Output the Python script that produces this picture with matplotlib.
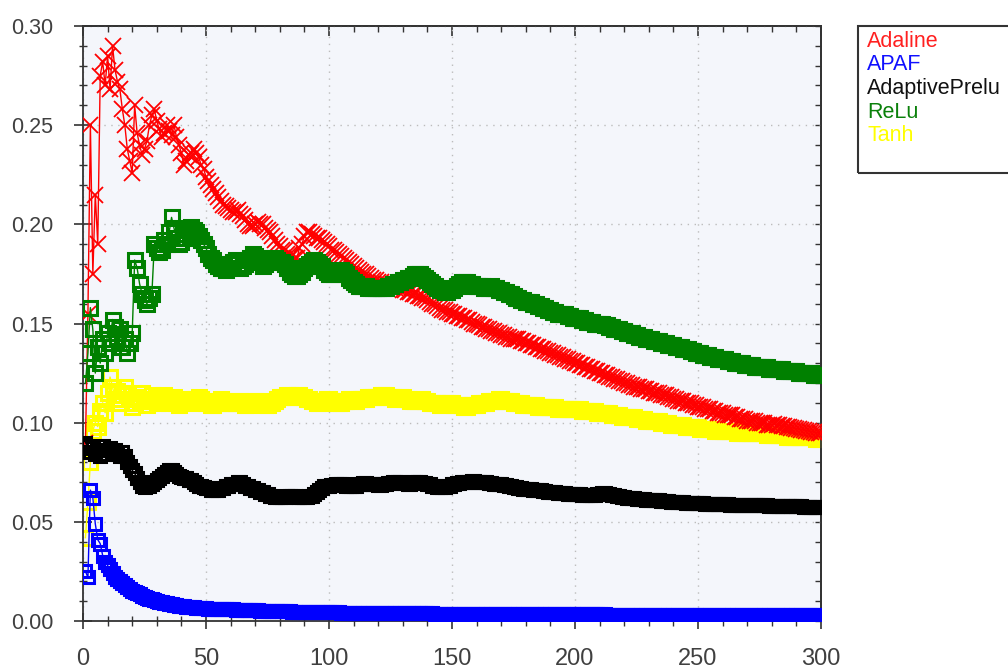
import matplotlib
matplotlib.use('Agg')
import matplotlib.pyplot as plt
from matplotlib.ticker import MultipleLocator
from matplotlib.patches import Rectangle

# iteration index 1..300
x_vals = list(range(1, 301))

adaline = [
    0.090, 0.155, 0.250, 0.175, 0.215, 0.190, 0.275, 0.282, 0.270, 0.285,
    0.268, 0.290, 0.278, 0.272, 0.268, 0.258, 0.250, 0.238, 0.232, 0.226,
    0.260, 0.246, 0.240, 0.235, 0.238, 0.242, 0.250, 0.255, 0.258, 0.252,
    0.248, 0.244, 0.246, 0.250, 0.247, 0.245, 0.250, 0.244, 0.240, 0.236,
    0.230, 0.232, 0.235, 0.236, 0.238, 0.236, 0.234, 0.230, 0.228, 0.224,
    0.222, 0.220, 0.218, 0.216, 0.214, 0.212, 0.210, 0.209, 0.208, 0.207,
    0.206, 0.206, 0.207, 0.205, 0.204, 0.202, 0.200, 0.199, 0.199, 0.200,
    0.201, 0.200, 0.200, 0.198, 0.197, 0.196, 0.194, 0.192, 0.190, 0.189,
    0.187, 0.187, 0.185, 0.185, 0.184, 0.183, 0.183, 0.188, 0.190, 0.194,
    0.196, 0.196, 0.195, 0.194, 0.193, 0.193, 0.192, 0.191, 0.190, 0.189,
    0.187, 0.187, 0.186, 0.185, 0.184, 0.183, 0.182, 0.181, 0.180, 0.179,
    0.178, 0.177, 0.176, 0.175, 0.175, 0.174, 0.173, 0.172, 0.172, 0.171,
    0.171, 0.170, 0.170, 0.170, 0.169, 0.169, 0.168, 0.168, 0.168, 0.167,
    0.167, 0.166, 0.166, 0.165, 0.165, 0.164, 0.164, 0.163, 0.163, 0.162,
    0.161, 0.160, 0.160, 0.159, 0.158, 0.157, 0.157, 0.156, 0.156, 0.155,
    0.155, 0.154, 0.154, 0.153, 0.153, 0.152, 0.152, 0.151, 0.150, 0.150,
    0.149, 0.148, 0.148, 0.147, 0.147, 0.146, 0.146, 0.145, 0.145, 0.144,
    0.144, 0.143, 0.143, 0.142, 0.142, 0.142, 0.142, 0.141, 0.141, 0.140,
    0.140, 0.139, 0.139, 0.138, 0.138, 0.137, 0.137, 0.136, 0.136, 0.135,
    0.135, 0.134, 0.134, 0.133, 0.133, 0.132, 0.132, 0.131, 0.131, 0.130,
    0.130, 0.129, 0.129, 0.128, 0.128, 0.127, 0.127, 0.126, 0.126, 0.125,
    0.125, 0.124, 0.124, 0.123, 0.123, 0.122, 0.122, 0.121, 0.121, 0.120,
    0.120, 0.119, 0.119, 0.118, 0.118, 0.118, 0.117, 0.117, 0.117, 0.116,
    0.116, 0.115, 0.115, 0.115, 0.114, 0.114, 0.114, 0.113, 0.113, 0.112,
    0.112, 0.111, 0.111, 0.111, 0.110, 0.110, 0.110, 0.109, 0.109, 0.108,
    0.108, 0.108, 0.107, 0.107, 0.107, 0.106, 0.106, 0.105, 0.105, 0.105,
    0.104, 0.104, 0.104, 0.104, 0.103, 0.103, 0.102, 0.102, 0.102, 0.101,
    0.101, 0.101, 0.101, 0.100, 0.100, 0.100, 0.100, 0.099, 0.099, 0.099,
    0.0995, 0.099, 0.099, 0.0985, 0.0985, 0.098, 0.098, 0.0975, 0.0975, 0.097,
    0.097, 0.0965, 0.0965, 0.096, 0.096, 0.0955, 0.0955, 0.095, 0.095, 0.095,
]

apaf = [
    0.025, 0.022, 0.066, 0.062, 0.049, 0.041, 0.039, 0.033, 0.030, 0.028,
    0.026, 0.024, 0.022, 0.021, 0.020, 0.019, 0.018, 0.017, 0.016, 0.0153,
    0.0146, 0.0140, 0.0134, 0.0128, 0.0123, 0.0118, 0.0113, 0.0109, 0.0105, 0.0101,
    0.0098, 0.0095, 0.0092, 0.0089, 0.0087, 0.0084, 0.0082, 0.0080, 0.0078, 0.0076,
    0.0075, 0.0073, 0.0072, 0.0070, 0.0069, 0.0068, 0.0067, 0.0066, 0.0065, 0.0064,
    0.0063, 0.0062, 0.0062, 0.0061, 0.0061, 0.0060, 0.0060, 0.0059, 0.0059, 0.0058,
    0.0058, 0.0057, 0.0057, 0.0056, 0.0056, 0.0055, 0.0055, 0.0054, 0.0054, 0.0053,
    0.0053, 0.0052, 0.0052, 0.0051, 0.0051, 0.0050, 0.0050, 0.0050, 0.0049, 0.0049,
    0.0049, 0.0048, 0.0048, 0.0048, 0.0047, 0.0047, 0.0047, 0.0046, 0.0046, 0.0046,
    0.0046, 0.0045, 0.0045, 0.0045, 0.0045, 0.0044, 0.0044, 0.0044, 0.0044, 0.0043,
    0.0043, 0.0043, 0.0043, 0.0043, 0.0042, 0.0042, 0.0042, 0.0042, 0.0042, 0.0041,
    0.0041, 0.0041, 0.0041, 0.0041, 0.0041, 0.0040, 0.0040, 0.0040, 0.0040, 0.0040,
    0.0040, 0.0040, 0.0039, 0.0039, 0.0039, 0.0039, 0.0039, 0.0039, 0.0039, 0.0038,
    0.0038, 0.0038, 0.0038, 0.0038, 0.0038, 0.0038, 0.0038, 0.0038, 0.0038, 0.0038,
    0.0038, 0.0038, 0.0037, 0.0037, 0.0037, 0.0037, 0.0037, 0.0037, 0.0037, 0.0037,
    0.0036, 0.0036, 0.0036, 0.0036, 0.0036, 0.0036, 0.0036, 0.0036, 0.0036, 0.0036,
    0.0036, 0.0036, 0.0035, 0.0035, 0.0035, 0.0035, 0.0035, 0.0035, 0.0035, 0.0035,
    0.0035, 0.0035, 0.0035, 0.0035, 0.0034, 0.0034, 0.0034, 0.0034, 0.0034, 0.0034,
    0.0034, 0.0034, 0.0034, 0.0034, 0.0034, 0.0034, 0.0034, 0.0034, 0.0034, 0.0034,
    0.0034, 0.0034, 0.0033, 0.0033, 0.0033, 0.0033, 0.0033, 0.0033, 0.0033, 0.0033,
    0.0033, 0.0033, 0.0033, 0.0033, 0.0033, 0.0033, 0.0033, 0.0033, 0.0033, 0.0033,
    0.0033, 0.0033, 0.0032, 0.0032, 0.0032, 0.0032, 0.0032, 0.0032, 0.0032, 0.0032,
    0.0032, 0.0032, 0.0032, 0.0032, 0.0032, 0.0032, 0.0032, 0.0032, 0.0032, 0.0032,
    0.0032, 0.0032, 0.0031, 0.0031, 0.0031, 0.0031, 0.0031, 0.0031, 0.0031, 0.0031,
    0.0031, 0.0031, 0.0031, 0.0031, 0.0031, 0.0031, 0.0031, 0.0031, 0.0031, 0.0031,
    0.0031, 0.0031, 0.0030, 0.0030, 0.0030, 0.0030, 0.0030, 0.0030, 0.0030, 0.0030,
    0.0030, 0.0030, 0.0030, 0.0030, 0.0030, 0.0030, 0.0030, 0.0030, 0.0030, 0.0030,
    0.0030, 0.0030, 0.0030, 0.0030, 0.0030, 0.0030, 0.0030, 0.0030, 0.0030, 0.0030,
    0.0030, 0.0030, 0.0029, 0.0029, 0.0029, 0.0029, 0.0029, 0.0029, 0.0029, 0.0029,
    0.0029, 0.0029, 0.0029, 0.0029, 0.0029, 0.0029, 0.0029, 0.0029, 0.0029, 0.0029,
]

adaptive_prelu = [
    0.090, 0.088, 0.085, 0.087, 0.084, 0.086, 0.083, 0.088, 0.084, 0.086,
    0.087, 0.085, 0.086, 0.084, 0.083, 0.085, 0.083, 0.080, 0.078, 0.076,
    0.0745, 0.072, 0.070, 0.068, 0.0676, 0.069, 0.068, 0.069, 0.070, 0.071,
    0.072, 0.073, 0.074, 0.075, 0.076, 0.076, 0.075, 0.074, 0.073, 0.0727,
    0.072, 0.072, 0.071, 0.071, 0.070, 0.069, 0.068, 0.068, 0.0676, 0.067,
    0.067, 0.066, 0.066, 0.066, 0.066, 0.067, 0.067, 0.068, 0.068, 0.069,
    0.069, 0.069, 0.070, 0.070, 0.069, 0.068, 0.068, 0.067, 0.067, 0.066,
    0.066, 0.065, 0.065, 0.064, 0.064, 0.063, 0.063, 0.0626, 0.0626, 0.0626,
    0.0626, 0.0626, 0.063, 0.063, 0.063, 0.063, 0.0626, 0.0626, 0.0626, 0.0626,
    0.0626, 0.063, 0.063, 0.064, 0.065, 0.066, 0.067, 0.068, 0.068, 0.068,
    0.0685, 0.0685, 0.069, 0.069, 0.069, 0.069, 0.068, 0.068, 0.068, 0.068,
    0.068, 0.069, 0.069, 0.0695, 0.0695, 0.069, 0.069, 0.069, 0.069, 0.0685,
    0.0685, 0.069, 0.069, 0.0695, 0.0695, 0.070, 0.070, 0.070, 0.070, 0.0695,
    0.0695, 0.069, 0.069, 0.070, 0.070, 0.070, 0.070, 0.0695, 0.0695, 0.069,
    0.069, 0.068, 0.068, 0.0676, 0.0676, 0.0676, 0.0676, 0.068, 0.068, 0.069,
    0.069, 0.0695, 0.0695, 0.070, 0.070, 0.070, 0.070, 0.0705, 0.0705, 0.070,
    0.070, 0.070, 0.070, 0.070, 0.0695, 0.0695, 0.0693, 0.0693, 0.069, 0.069,
    0.0685, 0.0685, 0.068, 0.068, 0.0675, 0.0675, 0.067, 0.067, 0.0668, 0.0668,
    0.0665, 0.0665, 0.066, 0.066, 0.066, 0.066, 0.0655, 0.0655, 0.065, 0.065,
    0.065, 0.065, 0.0645, 0.0645, 0.0645, 0.0645, 0.064, 0.064, 0.064, 0.064,
    0.064, 0.064, 0.0635, 0.0635, 0.0634, 0.0634, 0.0634, 0.0634, 0.064, 0.064,
    0.0643, 0.0643, 0.064, 0.064, 0.0635, 0.0635, 0.063, 0.063, 0.0625, 0.0625,
    0.062, 0.062, 0.062, 0.062, 0.0615, 0.0615, 0.0615, 0.0615, 0.061, 0.061,
    0.061, 0.061, 0.061, 0.061, 0.0605, 0.0605, 0.0605, 0.0605, 0.060, 0.060,
    0.060, 0.060, 0.0598, 0.0598, 0.0596, 0.0596, 0.0595, 0.0595, 0.0594, 0.0594,
    0.0593, 0.0593, 0.0592, 0.0592, 0.059, 0.059, 0.059, 0.059, 0.059, 0.059,
    0.0588, 0.0588, 0.0587, 0.0587, 0.0586, 0.0586, 0.0585, 0.0585, 0.0585, 0.0585,
    0.0584, 0.0584, 0.0584, 0.0584, 0.0584, 0.0584, 0.0583, 0.0583, 0.0582, 0.0582,
    0.0581, 0.0581, 0.058, 0.058, 0.058, 0.058, 0.0579, 0.0579, 0.0578, 0.0578,
    0.0578, 0.0578, 0.0577, 0.0577, 0.0576, 0.0576, 0.0576, 0.0576, 0.0575, 0.0575,
]

relu = [
    0.120, 0.135, 0.158, 0.147, 0.125, 0.138, 0.130, 0.142, 0.135, 0.145,
    0.140, 0.152, 0.148, 0.143, 0.147, 0.138, 0.142, 0.135, 0.140, 0.145,
    0.182, 0.178, 0.170, 0.165, 0.162, 0.160, 0.163, 0.165, 0.190, 0.188,
    0.186, 0.187, 0.192, 0.190, 0.196, 0.2035, 0.198, 0.193, 0.190, 0.191,
    0.193, 0.195, 0.197, 0.1985, 0.197, 0.196, 0.194, 0.192, 0.190, 0.188,
    0.185, 0.183, 0.182, 0.180, 0.179, 0.178, 0.178, 0.177, 0.178, 0.180,
    0.181, 0.182, 0.180, 0.178, 0.179, 0.180, 0.182, 0.183, 0.185, 0.184,
    0.182, 0.181, 0.179, 0.180, 0.182, 0.182, 0.183, 0.183, 0.182, 0.181,
    0.181, 0.180, 0.178, 0.176, 0.175, 0.174, 0.174, 0.175, 0.176, 0.178,
    0.179, 0.180, 0.181, 0.182, 0.181, 0.180, 0.179, 0.177, 0.176, 0.175,
    0.175, 0.175, 0.176, 0.176, 0.177, 0.176, 0.175, 0.173, 0.172, 0.171,
    0.170, 0.169, 0.169, 0.169, 0.169, 0.168, 0.168, 0.168, 0.168, 0.168,
    0.168, 0.168, 0.168, 0.169, 0.169, 0.170, 0.170, 0.171, 0.171, 0.172,
    0.172, 0.173, 0.173, 0.174, 0.175, 0.175, 0.175, 0.174, 0.173, 0.172,
    0.171, 0.170, 0.169, 0.168, 0.167, 0.167, 0.166, 0.166, 0.167, 0.167,
    0.168, 0.169, 0.170, 0.171, 0.171, 0.171, 0.170, 0.170, 0.169, 0.169,
    0.169, 0.169, 0.168, 0.168, 0.168, 0.169, 0.168, 0.168, 0.167, 0.167,
    0.166, 0.166, 0.165, 0.165, 0.164, 0.163, 0.163, 0.162, 0.162, 0.161,
    0.161, 0.161, 0.160, 0.160, 0.159, 0.159, 0.158, 0.158, 0.157, 0.157,
    0.156, 0.156, 0.155, 0.155, 0.155, 0.155, 0.154, 0.154, 0.153, 0.153,
    0.153, 0.153, 0.152, 0.152, 0.151, 0.151, 0.151, 0.150, 0.150, 0.150,
    0.150, 0.149, 0.149, 0.148, 0.148, 0.147, 0.147, 0.147, 0.146, 0.146,
    0.145, 0.145, 0.145, 0.144, 0.144, 0.143, 0.143, 0.143, 0.142, 0.142,
    0.142, 0.141, 0.141, 0.141, 0.140, 0.140, 0.140, 0.139, 0.139, 0.139,
    0.138, 0.138, 0.138, 0.137, 0.137, 0.137, 0.136, 0.136, 0.135, 0.135,
    0.135, 0.134, 0.134, 0.134, 0.133, 0.133, 0.133, 0.132, 0.132, 0.132,
    0.132, 0.131, 0.131, 0.131, 0.130, 0.130, 0.130, 0.130, 0.129, 0.129,
    0.129, 0.129, 0.128, 0.128, 0.128, 0.128, 0.128, 0.128, 0.127, 0.127,
    0.127, 0.127, 0.127, 0.127, 0.126, 0.126, 0.126, 0.126, 0.126, 0.126,
    0.125, 0.125, 0.125, 0.125, 0.125, 0.125, 0.124, 0.124, 0.124, 0.124,
]

tanh = [
    0.042, 0.060, 0.080, 0.096, 0.100, 0.098, 0.106, 0.110, 0.105, 0.115,
    0.123, 0.118, 0.112, 0.116, 0.110, 0.114, 0.118, 0.115, 0.112, 0.108,
    0.110, 0.113, 0.111, 0.115, 0.112, 0.109, 0.111, 0.114, 0.112, 0.110,
    0.113, 0.111, 0.114, 0.112, 0.110, 0.111, 0.113, 0.110, 0.109, 0.112,
    0.112, 0.111, 0.111, 0.110, 0.111, 0.112, 0.113, 0.112, 0.111, 0.110,
    0.110, 0.109, 0.109, 0.110, 0.111, 0.112, 0.111, 0.110, 0.110, 0.110,
    0.110, 0.110, 0.111, 0.111, 0.110, 0.109, 0.109, 0.110, 0.110, 0.111,
    0.111, 0.110, 0.110, 0.109, 0.109, 0.110, 0.110, 0.111, 0.112, 0.113,
    0.113, 0.113, 0.114, 0.114, 0.113, 0.113, 0.114, 0.114, 0.113, 0.113,
    0.112, 0.112, 0.111, 0.111, 0.110, 0.110, 0.111, 0.111, 0.112, 0.112,
    0.111, 0.111, 0.110, 0.110, 0.110, 0.111, 0.111, 0.112, 0.112, 0.111,
    0.111, 0.112, 0.112, 0.112, 0.112, 0.113, 0.113, 0.113, 0.113, 0.113,
    0.114, 0.114, 0.114, 0.113, 0.113, 0.113, 0.112, 0.112, 0.113, 0.113,
    0.112, 0.112, 0.111, 0.111, 0.111, 0.111, 0.112, 0.112, 0.111, 0.111,
    0.110, 0.110, 0.110, 0.110, 0.109, 0.109, 0.110, 0.110, 0.110, 0.110,
    0.109, 0.109, 0.109, 0.109, 0.108, 0.108, 0.109, 0.109, 0.109, 0.109,
    0.110, 0.110, 0.110, 0.110, 0.111, 0.111, 0.111, 0.111, 0.112, 0.112,
    0.111, 0.111, 0.111, 0.111, 0.110, 0.110, 0.110, 0.110, 0.109, 0.109,
    0.109, 0.109, 0.109, 0.109, 0.108, 0.108, 0.108, 0.108, 0.108, 0.108,
    0.108, 0.108, 0.107, 0.107, 0.107, 0.107, 0.107, 0.107, 0.107, 0.107,
    0.107, 0.107, 0.106, 0.106, 0.106, 0.106, 0.106, 0.106, 0.105, 0.105,
    0.105, 0.105, 0.105, 0.105, 0.104, 0.104, 0.104, 0.104, 0.103, 0.103,
    0.103, 0.103, 0.103, 0.103, 0.102, 0.102, 0.102, 0.102, 0.101, 0.101,
    0.101, 0.101, 0.101, 0.101, 0.100, 0.100, 0.100, 0.100, 0.099, 0.099,
    0.099, 0.099, 0.099, 0.099, 0.098, 0.098, 0.098, 0.098, 0.098, 0.098,
    0.097, 0.097, 0.097, 0.097, 0.097, 0.097, 0.096, 0.096, 0.096, 0.096,
    0.096, 0.096, 0.096, 0.096, 0.096, 0.095, 0.095, 0.095, 0.095, 0.095,
    0.095, 0.095, 0.095, 0.095, 0.095, 0.095, 0.095, 0.094, 0.094, 0.094,
    0.094, 0.094, 0.094, 0.094, 0.094, 0.093, 0.093, 0.093, 0.093, 0.093,
    0.093, 0.093, 0.093, 0.093, 0.093, 0.093, 0.093, 0.092, 0.092, 0.092,
]

legend_labels = ['Adaline', 'APAF', 'AdaptivePrelu', 'ReLu', 'Tanh']
legend_colors = ['#ff2020', '#1010ff', '#111111', '#0a800a', '#ffff00']

x_ticks = [0, 50, 100, 150, 200, 250, 300]
y_ticks = [0.00, 0.05, 0.10, 0.15, 0.20, 0.25, 0.30]

W, H = 1008, 671
fig = plt.figure(figsize=(W / 100, H / 100), dpi=100)
ax = fig.add_axes([83 / W, (H - 621) / H, (821 - 83) / W, (621 - 26) / H])
ax.set_facecolor('#f4f6fb')

series = [
    (adaline, '#ff0000', 'x', 12.0, 1.3, 3),
    (apaf, '#0000ff', 's', 8.5, 2.2, 6),
    (adaptive_prelu, '#000000', 's', 9.0, 2.2, 5),
    (relu, '#008000', 's', 9.5, 2.2, 4),
    (tanh, '#ffff00', 's', 9.5, 2.2, 2),
]
for ys, c, m, ms, mw, z in series:
    ax.plot(x_vals, ys, color=c, lw=1.0, marker=m, ms=ms, mfc='none',
            mec=c, mew=mw, zorder=z)

ax.set_xlim(0, 300)
ax.set_ylim(0, 0.30)
ax.set_xticks(x_ticks)
ax.set_yticks(y_ticks)
ax.set_xticklabels([str(v) for v in x_ticks])
ax.set_yticklabels(['%.2f' % v for v in y_ticks])
ax.xaxis.set_minor_locator(MultipleLocator(10))
ax.yaxis.set_minor_locator(MultipleLocator(0.01))

tick_font = ['Liberation Sans', 'DejaVu Sans']
for lab in ax.get_yticklabels():
    lab.set_family(tick_font)
    lab.set_fontsize(15.5)
    lab.set_color('#404040')
for lab in ax.get_xticklabels():
    lab.set_family(tick_font)
    lab.set_fontsize(17)
    lab.set_color('#404040')

ax.tick_params(axis='y', which='major', direction='inout', length=13, width=1.2,
               color='#333333', pad=15)
ax.tick_params(axis='y', which='minor', direction='inout', length=6, width=1.0,
               color='#333333')
ax.tick_params(axis='x', which='major', direction='inout', length=11, width=1.2,
               color='#333333', pad=14)
ax.tick_params(axis='x', which='minor', direction='inout', length=7, width=1.0,
               color='#333333')

for sp in ax.spines.values():
    sp.set_color('#333333')
    sp.set_linewidth(1.3)

ax.grid(True, which='major', color='#bcbcbc', linestyle=(0, (1, 4)), lw=1.0)
ax.set_axisbelow(True)

# top and right tick marks pointing inward
sec_x = ax.secondary_xaxis('top')
sec_x.set_xticks(x_ticks)
sec_x.xaxis.set_minor_locator(MultipleLocator(10))
sec_x.tick_params(which='major', direction='in', length=7, width=1.2,
                  color='#333333', labeltop=False)
sec_x.tick_params(which='minor', direction='in', length=4, width=1.0,
                  color='#333333')
sec_x.spines['top'].set_color('#333333')
sec_x.spines['top'].set_linewidth(1.3)

sec_y = ax.secondary_yaxis('right')
sec_y.set_yticks(y_ticks)
sec_y.yaxis.set_minor_locator(MultipleLocator(0.01))
sec_y.tick_params(which='both', direction='in', length=4, width=1.0,
                  color='#333333', labelright=False)
sec_y.spines['right'].set_color('#333333')
sec_y.spines['right'].set_linewidth(1.3)

# legend box (extends past the right edge, as in the source image)
fig.add_artist(Rectangle((858 / W, 1 - 173 / H), (1030 - 858) / W, (173 - 26) / H,
                         transform=fig.transFigure, fill=False,
                         edgecolor='#333333', lw=1.5))
baselines = [47, 70, 94, 118, 141]
for lab, col, yb in zip(legend_labels, legend_colors, baselines):
    fig.text(867 / W, 1 - yb / H, lab, color=col, fontsize=15.5,
             family=['Liberation Sans', 'DejaVu Sans'], va='baseline', ha='left')

fig.savefig('out.png', dpi=100)
